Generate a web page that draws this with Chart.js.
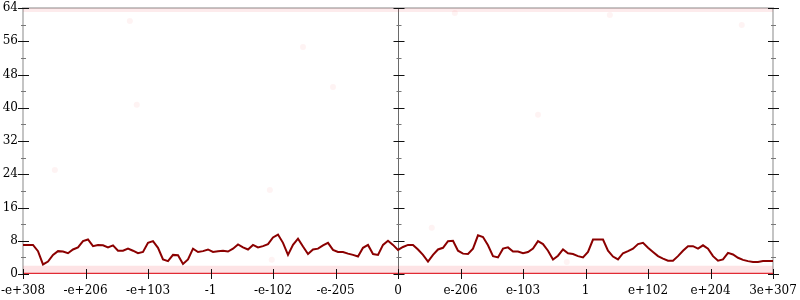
<!DOCTYPE html>
<html>
<head>
<meta charset="utf-8">
<script src="https://cdn.jsdelivr.net/npm/chart.js@4.4.0/dist/chart.umd.min.js"></script>
<style>
    html, body { margin: 0; padding: 0; background: #fff; }
    #wrap { width: 800px; height: 300px; }
</style>
</head>
<body>
<div id="wrap"><canvas id="chart" width="800" height="300"></canvas></div>
<script>
// tick labels along the bottom, one per axis interval
const xLabels = ['-e+308', '-e+206', '-e+103', '-1', '-e-102', '-e-205', '0',
    'e-206', 'e-103', '1', 'e+102', 'e+204', '3e+307'];
const yMax = 64;

// running value of the dark red line, sampled evenly from left to right edge
const lineValues = [
    7.0, 7.0, 7.0, 5.5, 2.3, 3.0, 4.6, 5.5, 5.4, 5.0,
    5.9, 6.4, 7.9, 8.3, 6.7, 7.0, 6.9, 6.4, 6.9, 5.6,
    5.6, 6.1, 5.6, 5.0, 5.3, 7.5, 7.9, 6.3, 3.5, 3.1,
    4.6, 4.5, 2.4, 3.5, 6.1, 5.3, 5.5, 5.9, 5.3, 5.5,
    5.6, 5.4, 6.1, 7.1, 6.4, 5.9, 7.0, 6.4, 6.7, 7.2,
    8.8, 9.5, 7.5, 4.6, 7.0, 8.5, 6.6, 4.8, 5.9, 6.1,
    6.9, 7.5, 5.8, 5.3, 5.3, 4.9, 4.6, 4.2, 6.3, 7.0,
    4.8, 4.6, 7.0, 8.0, 7.0, 5.8, 6.5, 7.0, 7.0, 5.9,
    4.6, 3.0, 4.6, 5.9, 6.3, 7.9, 8.0, 5.6, 4.9, 4.8,
    6.1, 9.3, 8.9, 6.9, 4.3, 4.0, 6.1, 6.4, 5.4, 5.4,
    5.0, 5.3, 6.1, 7.9, 7.2, 5.6, 3.5, 4.4, 5.9, 5.0,
    4.8, 4.3, 4.0, 5.3, 8.3, 8.3, 8.3, 5.6, 4.2, 3.5,
    5.0, 5.5, 6.1, 7.2, 7.5, 6.3, 5.3, 4.3, 3.7, 3.2,
    3.2, 4.3, 5.6, 6.7, 6.7, 6.1, 6.9, 6.1, 4.3, 3.2,
    3.5, 5.1, 4.7, 3.9, 3.4, 3.1, 2.9, 2.9, 3.1, 3.1,
    3.1
];

// faint stray samples scattered over the plot
const strayX = [1.71, 1.82, 0.51, 4.48, 4.96, 6.91, 11.5, 9.39, 3.98, 6.54, 8.70, 3.95, 8.24];
const strayY = [60.9, 40.7, 25.0, 54.6, 45.0, 62.8, 59.9, 62.3, 3.4, 11.1, 2.9, 20.2, 38.3];

// dense sample bands hugging the bottom and the top
const bottomBand = [0, 1];
const topBand = [63.5];

const xMax = xLabels.length - 1;
const step = xMax / (lineValues.length - 1);
const linePoints = lineValues.map((v, i) => ({ x: i * step, y: v }));
const strayPoints = strayX.map((x, i) => ({ x: x, y: strayY[i] }));
const band = (y) => [{ x: 0, y: y }, { x: xMax, y: y }];

const serif = { family: "'DejaVu Serif', serif", size: 12 };

const axesPlugin = {
    id: 'axes',
    beforeDatasetsDraw(chart) {
        const { ctx, chartArea: a } = chart;
        const xs = chart.scales.x;
        ctx.save();
        ctx.strokeStyle = '#c4c4c4';
        ctx.lineWidth = 2;
        ctx.beginPath();
        ctx.moveTo(a.left, a.bottom);
        ctx.lineTo(a.left, a.top);
        ctx.lineTo(a.right, a.top);
        ctx.lineTo(a.right, a.bottom);
        ctx.stroke();
        const cx = Math.round(xs.getPixelForValue(xMax / 2)) + 0.5;
        ctx.strokeStyle = '#6a6a6a';
        ctx.lineWidth = 1;
        ctx.beginPath();
        ctx.moveTo(cx, a.top);
        ctx.lineTo(cx, a.bottom);
        ctx.stroke();
        ctx.restore();
    },
    afterDatasetsDraw(chart) {
        const { ctx, chartArea: a } = chart;
        const xs = chart.scales.x, ys = chart.scales.y;
        const cx = Math.round(xs.getPixelForValue(xMax / 2)) + 0.5;
        const axesX = [a.left, cx, a.right];
        ctx.save();
        for (let v = 0; v <= yMax; v += 4) {
            const y = Math.round(ys.getPixelForValue(v)) + 0.5;
            const major = v % 8 === 0;
            ctx.strokeStyle = major ? '#111' : '#777';
            ctx.lineWidth = 1;
            axesX.forEach(x => {
                ctx.beginPath();
                ctx.moveTo(x - (major ? 5 : 2), y);
                ctx.lineTo(x + (major ? 6 : 3), y);
                ctx.stroke();
            });
        }
        ctx.strokeStyle = '#111';
        for (let i = 0; i <= xMax; i++) {
            const x = Math.round(xs.getPixelForValue(i)) + 0.5;
            ctx.beginPath();
            ctx.moveTo(x, a.bottom - 5);
            ctx.lineTo(x, a.bottom + 5);
            ctx.stroke();
        }
        ctx.restore();
    }
};

new Chart(document.getElementById('chart'), {
    type: 'scatter',
    data: {
        datasets: [
            {
                data: band(bottomBand[1]),
                showLine: true,
                borderColor: 'rgba(240, 60, 70, 0.14)',
                borderWidth: 8,
                pointRadius: 0
            },
            {
                data: band(topBand[0]),
                showLine: true,
                borderColor: 'rgba(240, 60, 70, 0.1)',
                borderWidth: 4,
                pointRadius: 0
            },
            {
                data: strayPoints,
                backgroundColor: 'rgba(240, 80, 90, 0.07)',
                borderWidth: 0,
                pointRadius: 3
            },
            {
                data: band(bottomBand[0]),
                showLine: true,
                borderColor: 'rgba(222, 30, 40, 0.95)',
                borderWidth: 2.5,
                pointRadius: 0
            },
            {
                data: linePoints,
                showLine: true,
                borderColor: '#8b0000',
                borderWidth: 2,
                pointRadius: 0,
                tension: 0
            }
        ]
    },
    options: {
        responsive: false,
        animation: false,
        layout: { padding: { top: 8, right: 27, left: 0, bottom: 0 } },
        plugins: { legend: { display: false }, tooltip: { enabled: false } },
        scales: {
            x: {
                type: 'linear',
                min: 0,
                max: xMax,
                afterBuildTicks: (s) => { s.ticks = xLabels.map((_, i) => ({ value: i })); },
                afterFit: (s) => { s.height = 26; s.paddingLeft = 0; s.paddingRight = 0; },
                grid: { display: false, drawTicks: false, tickLength: 0 },
                border: { display: false },
                ticks: {
                    autoSkip: false,
                    maxRotation: 0,
                    padding: 10,
                    color: '#000',
                    font: serif,
                    callback: (v) => xLabels[v]
                }
            },
            y: {
                min: 0,
                max: yMax,
                afterFit: (s) => { s.width = 23; s.paddingTop = 0; s.paddingBottom = 0; },
                grid: { display: false, drawTicks: false, tickLength: 0 },
                border: { display: false },
                ticks: {
                    stepSize: 8,
                    padding: 5,
                    color: '#000',
                    font: serif
                }
            }
        }
    },
    plugins: [axesPlugin]
});
</script>
</body>
</html>
